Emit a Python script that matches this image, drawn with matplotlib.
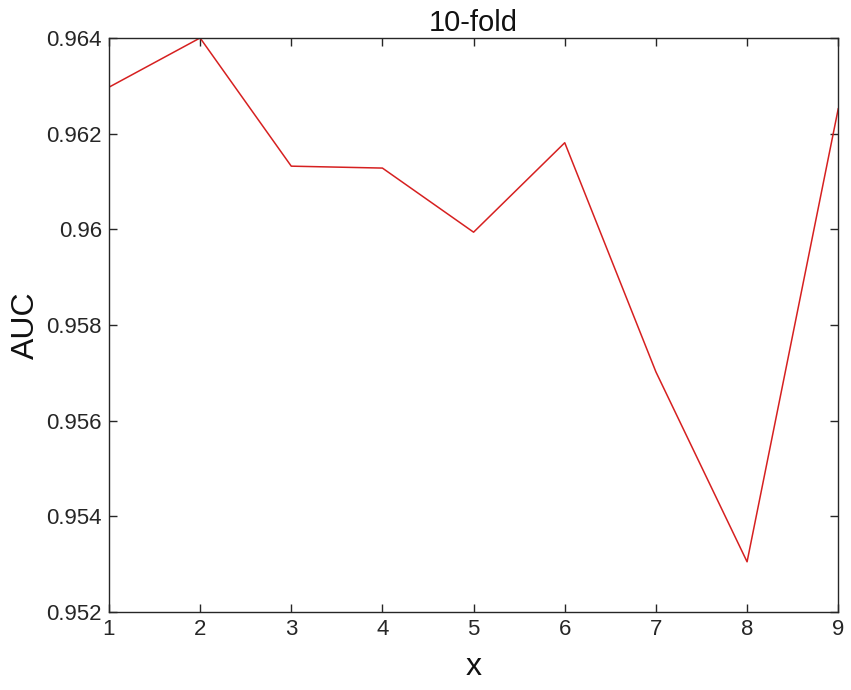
import matplotlib
matplotlib.use('Agg')
import matplotlib.pyplot as plt

# AUC values for each fold position
x = [1, 2, 3, 4, 5, 6, 7, 8, 9]
auc = [0.96297, 0.96400, 0.96132, 0.96128, 0.95994, 0.96181, 0.95702, 0.95305, 0.96252]
yticks = [0.952, 0.954, 0.956, 0.958, 0.96, 0.962, 0.964]
yticklabels = ['0.952', '0.954', '0.956', '0.958', '0.96', '0.962', '0.964']

plt.rcParams['font.family'] = ['Liberation Sans', 'DejaVu Sans']

fig = plt.figure(figsize=(8.51, 6.90), dpi=100)
ax = fig.add_axes([0.128, 0.113, 0.857, 0.832])
ax.plot(x, auc, color='#d62020', linewidth=1.1)

ax.set_xlim(1, 9)
ax.set_ylim(0.952, 0.964)
ax.set_xticks(x)
ax.set_yticks(yticks)
ax.set_yticklabels(yticklabels)
ax.tick_params(direction='in', top=True, right=True, length=6, width=1,
               labelsize=16, colors='#262626', pad=5)
for s in ax.spines.values():
    s.set_color('#262626')
    s.set_linewidth(1)

ax.set_title('10-fold', fontsize=21, color='#111111', pad=5)
ax.set_xlabel('x', fontsize=23, color='#111111', labelpad=9)
ax.set_ylabel('AUC', fontsize=23, color='#111111', labelpad=4)

fig.savefig('out.png', dpi=100)
